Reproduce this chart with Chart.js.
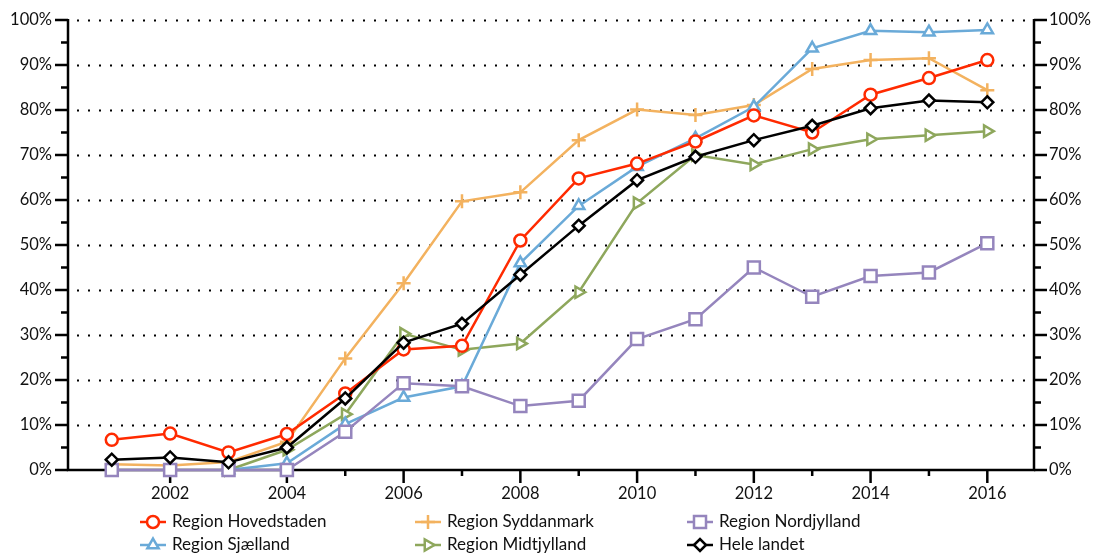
<!DOCTYPE html>
<html>
<head>
<meta charset="utf-8">
<script src="https://cdn.jsdelivr.net/npm/chart.js@4/dist/chart.umd.min.js"></script>
<style>
  html, body { margin: 0; padding: 0; background: #fff; }
  #wrap { width: 1093px; height: 553px; }
</style>
</head>
<body>
<div id="wrap"><canvas id="chart" width="1093" height="553"></canvas></div>
<script>
const years = [2001, 2002, 2003, 2004, 2005, 2006, 2007, 2008, 2009, 2010, 2011, 2012, 2013, 2014, 2015, 2016];
const hovedstaden = [6.7, 8.1, 3.9, 8.0, 17.0, 26.8, 27.6, 51.0, 64.8, 68.1, 73.0, 78.8, 75.0, 83.4, 87.1, 91.1];
const sjaelland = [null, null, 0, 1.5, 10.2, 16.1, 18.6, 46.0, 58.7, 67.4, 73.7, 80.7, 93.7, 97.6, 97.3, 97.8];
const syddanmark = [1.3, 1.0, 1.8, 6.3, 24.8, 41.5, 59.7, 61.7, 73.3, 80.1, 78.9, 81.1, 89.1, 91.1, 91.5, 84.4];
const midtjylland = [null, null, 0, 4.5, 12.4, 30.3, 26.7, 28.1, 39.5, 59.3, 70.0, 67.9, 71.3, 73.5, 74.4, 75.3];
const nordjylland = [0, 0, 0, 0, 8.5, 19.3, 18.6, 14.2, 15.4, 29.1, 33.5, 45.0, 38.5, 43.1, 43.9, 50.4];
const heleLandet = [2.3, 2.8, 1.7, 5.0, 15.9, 28.3, 32.5, 43.4, 54.3, 64.4, 69.6, 73.3, 76.5, 80.4, 82.1, 81.7];
const yTicks = [0, 10, 20, 30, 40, 50, 60, 70, 80, 90, 100];

const FONT = "Lato";

function series(label, values, color, style, radius, rotation, col, row) {
  return {
    label: label,
    data: years.map((y, i) => ({ x: y, y: values[i] })),
    borderColor: color,
    backgroundColor: "#fff",
    borderWidth: 2.5,
    pointStyle: style,
    pointRadius: radius,
    pointRotation: rotation,
    pointBorderWidth: 2.5,
    pointBackgroundColor: "#fff",
    pointBorderColor: color,
    spanGaps: false,
    clip: false,
    legendCol: col,
    legendRow: row,
  };
}

// first dataset is drawn on top
const datasets = [
  series("Hele landet", heleLandet, "#000000", "rectRot", 6, 0, 2, 1),
  series("Region Hovedstaden", hovedstaden, "#ff2a00", "circle", 6, 0, 0, 0),
  series("Region Nordjylland", nordjylland, "#9585bd", "rect", 8.5, 0, 2, 0),
  series("Region Sjælland", sjaelland, "#6aaad8", "triangle", 6.5, 0, 0, 1),
  series("Region Midtjylland", midtjylland, "#8ea75c", "triangle", 6.5, 90, 1, 1),
  series("Region Syddanmark", syddanmark, "#f3b25f", "cross", 7, 0, 1, 0),
];

// axes, ticks and dotted grid
const framePlugin = {
  id: "frame",
  beforeDatasetsDraw(chart) {
    const ctx = chart.ctx;
    const a = chart.chartArea;
    const ys = chart.scales.y;
    const xs = chart.scales.x;
    ctx.save();
    ctx.strokeStyle = "#000";
    // dotted grid
    ctx.lineWidth = 2.2;
    ctx.setLineDash([2, 9]);
    yTicks.forEach((t) => {
      if (t === 0) return;
      const py = Math.round(ys.getPixelForValue(t)) + 0.5;
      ctx.beginPath();
      ctx.moveTo(a.left + 9, py);
      ctx.lineTo(a.right - 4, py);
      ctx.stroke();
    });
    ctx.setLineDash([]);
    ctx.lineWidth = 2.5;
    // y ticks left and right
    for (let v = 0; v <= 100; v += 5) {
      const py = ys.getPixelForValue(v);
      const len = v % 10 === 0 ? 13 : 7;
      ctx.beginPath();
      ctx.moveTo(a.left - len, py);
      ctx.lineTo(a.left, py);
      ctx.moveTo(a.right, py);
      ctx.lineTo(a.right + len, py);
      ctx.stroke();
    }
    // x ticks
    years.forEach((yr) => {
      const px = xs.getPixelForValue(yr);
      const len = yr % 2 === 0 ? 13 : 6;
      ctx.beginPath();
      ctx.moveTo(px, a.bottom);
      ctx.lineTo(px, a.bottom + len);
      ctx.stroke();
    });
    // axis lines
    ctx.beginPath();
    ctx.moveTo(a.left, a.top - 1);
    ctx.lineTo(a.left, a.bottom);
    ctx.lineTo(a.right, a.bottom);
    ctx.lineTo(a.right, a.top - 1);
    ctx.stroke();
    ctx.restore();
  },
};

// legend in three columns
const legendPlugin = {
  id: "colLegend",
  afterDraw(chart) {
    const ctx = chart.ctx;
    const colX = [153, 428, 700];
    const rowY = [522, 545];
    ctx.save();
    chart.data.datasets.forEach((ds) => {
      const cx = colX[ds.legendCol];
      const cy = rowY[ds.legendRow];
      ctx.strokeStyle = ds.borderColor;
      ctx.lineWidth = 2.5;
      ctx.beginPath();
      ctx.moveTo(cx - 13, cy);
      ctx.lineTo(cx + 13, cy);
      ctx.stroke();
      ctx.fillStyle = "#fff";
      Chart.helpers.drawPoint(ctx, {
        pointStyle: ds.pointStyle,
        rotation: ds.pointRotation,
        radius: ds.pointRadius,
        borderWidth: 2.5,
      }, cx, cy);
      ctx.fillStyle = "#111";
      ctx.font = "17px " + FONT;
      ctx.textBaseline = "middle";
      ctx.textAlign = "left";
      ctx.fillText(ds.label, cx + 19, cy);
    });
    ctx.restore();
  },
};

function fixVertical(width) {
  return (scale) => {
    scale.width = width;
    scale.paddingTop = 0;
    scale.paddingBottom = 0;
  };
}

new Chart(document.getElementById("chart"), {
  type: "line",
  data: { datasets: datasets },
  plugins: [framePlugin, legendPlugin],
  options: {
    responsive: false,
    animation: false,
    layout: { padding: { top: 20, bottom: 43, left: 0, right: 0 } },
    plugins: { legend: { display: false }, tooltip: { enabled: false } },
    scales: {
      x: {
        type: "linear",
        min: 2000.25,
        max: 2016.8,
        afterBuildTicks: (scale) => {
          scale.ticks = years.map((v) => ({ value: v }));
        },
        afterFit: (scale) => { scale.height = 40; },
        grid: { display: false, drawTicks: false },
        border: { display: false },
        ticks: {
          autoSkip: false,
          maxRotation: 0,
          padding: 14,
          color: "#111",
          font: { family: FONT, size: 16.5 },
          callback: (v) => (v % 2 === 0 ? String(v) : ""),
        },
      },
      y: {
        position: "left",
        min: 0,
        max: 100,
        afterFit: fixVertical(68),
        grid: { display: false, drawTicks: false },
        border: { display: false },
        ticks: {
          stepSize: 10,
          padding: 16,
          color: "#111",
          font: { family: FONT, size: 16.5 },
          callback: (v) => v + "%",
        },
      },
      y2: {
        position: "right",
        min: 0,
        max: 100,
        afterFit: fixVertical(59),
        grid: { display: false, drawTicks: false },
        border: { display: false },
        ticks: {
          stepSize: 10,
          padding: 15,
          color: "#111",
          font: { family: FONT, size: 16.5 },
          callback: (v) => v + "%",
        },
      },
    },
  },
});
</script>
</body>
</html>
